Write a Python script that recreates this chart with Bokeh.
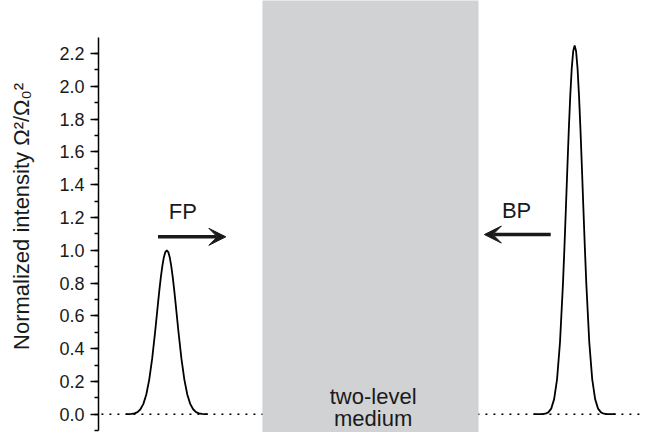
from bokeh.plotting import figure
from bokeh.models import Range1d, SingleIntervalTicker, PrintfTickFormatter, Arrow, VeeHead
from bokeh.core.properties import value
from bokeh.embed import file_html
from bokeh.resources import INLINE

# ---- data ----
fp_x = [28, 31, 34, 37, 40, 43, 46, 49, 52, 55, 58, 61, 62.5, 64, 65.5, 67, 68.5, 70,
        71.5, 73, 74.5, 76, 77.5, 79, 82, 85, 88, 91, 94, 97, 100, 103, 106, 109, 112]
fp_y = [0.0, 0.001, 0.002, 0.005, 0.013, 0.030, 0.063, 0.120, 0.211, 0.339, 0.500, 0.678, 0.763, 0.841, 0.907,
        0.958, 0.989, 1.000,
        0.989, 0.958, 0.907, 0.841, 0.763, 0.678, 0.500, 0.339, 0.211, 0.120, 0.063, 0.030, 0.013, 0.005,
        0.002, 0.001, 0.0]

bp_x = [446, 449, 452, 455, 458, 461, 464, 467, 470, 473, 476, 477.5, 479, 480.5, 482, 483.5, 485, 486.5, 488,
        489.5, 491, 492.5, 494, 495.5, 497, 498.5, 500, 503, 506, 509, 512, 515, 518, 521, 524, 527, 530]
bp_y = [0.0, 0.0, 0.0, 0.001, 0.003, 0.011, 0.034, 0.092, 0.214, 0.439, 0.791, 1.011, 1.250, 1.496, 1.733,
        1.942, 2.108, 2.214, 2.250,
        2.214, 2.108, 1.942, 1.733, 1.496, 1.250, 1.011, 0.791, 0.439, 0.214, 0.092, 0.034, 0.011, 0.003,
        0.001, 0.0, 0.0, 0.0]

baseline_x = [3, 556]
baseline_y = [0.0, 0.0]

medium_left = [168]
medium_right = [389.5]

pulse_labels = ["FP", "BP"]
medium_labels = ["two-level", "medium"]
y_label = "Normalized intensity \u03a9\u00b2/\u03a9\u2080\u00b2"

FONT = "Liberation Sans"
TXT = "#1a1a1a"

p = figure(width=640, height=432, output_backend="svg", toolbar_location=None,
           x_range=Range1d(0, 555.5), y_range=Range1d(-0.1117, 2.524),
           x_axis_location=None, min_border_left=98, min_border_right=0,
           min_border_top=0, min_border_bottom=0)
p.outline_line_color = None
p.grid.visible = False
p.background_fill_color = "white"
p.border_fill_color = "white"

ax = p.yaxis[0]
ax.ticker = SingleIntervalTicker(interval=0.2, num_minor_ticks=2)
ax.formatter = PrintfTickFormatter(format="%.1f")
ax.bounds = (-0.1, 2.3)
ax.axis_line_width = 1.5
ax.axis_line_color = "black"
ax.major_tick_line_width = 1.5
ax.minor_tick_line_width = 1.5
ax.major_tick_out = 8
ax.major_tick_in = 0
ax.minor_tick_out = 4
ax.minor_tick_in = 0
ax.major_label_standoff = 6
ax.major_label_text_font = FONT
ax.major_label_text_font_size = "18px"
ax.major_label_text_color = TXT
ax.axis_label = y_label
ax.axis_label_text_font = FONT
ax.axis_label_text_font_size = "22px"
ax.axis_label_text_font_style = "normal"
ax.axis_label_text_color = TXT
ax.axis_label_standoff = 22

# dotted baseline
p.line(baseline_x, baseline_y, line_color="black", line_width=1.5, line_dash="2 6")

# two-level medium region
p.quad(left=medium_left, right=medium_right, bottom=[-1], top=[3],
       fill_color="#d1d2d4", line_color=None)

# pulses
p.line(fp_x, fp_y, line_color="black", line_width=1.8)
p.line(bp_x, bp_y, line_color="black", line_width=1.8)

# arrows
p.add_layout(Arrow(x_start=61, y_start=1.082, x_end=130.5, y_end=1.082,
                   line_width=3.5, line_color="#1a1a1a",
                   end=VeeHead(size=17, fill_color="#1a1a1a", line_color="#1a1a1a", line_width=1)))
p.add_layout(Arrow(x_start=463.5, y_start=1.096, x_end=395.5, y_end=1.096,
                   line_width=3.5, line_color="#1a1a1a",
                   end=VeeHead(size=17, fill_color="#1a1a1a", line_color="#1a1a1a", line_width=1)))

# labels
p.text(x=[86.5, 428.5], y=[1.235, 1.241], text=pulse_labels,
       text_font=value(FONT), text_font_size="22px", text_color=TXT,
       text_align="center", text_baseline="alphabetic")
p.text(x=[281.5, 281.5], y=[0.106, -0.028], text=medium_labels,
       text_font=value(FONT), text_font_size="22px", text_color=TXT,
       text_align="center", text_baseline="alphabetic")

open("out.html", "w").write(file_html(p, INLINE))
